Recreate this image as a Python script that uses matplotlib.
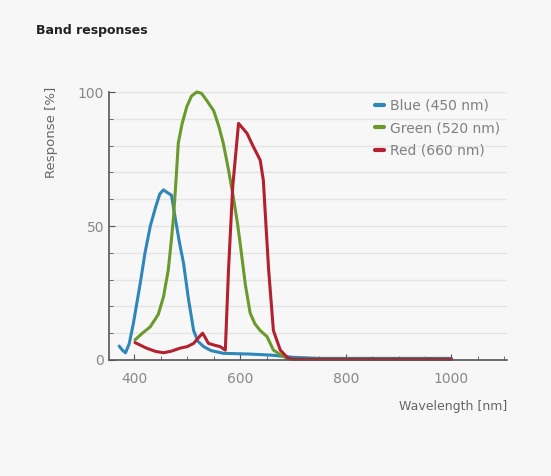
import matplotlib
matplotlib.use("Agg")
import matplotlib.pyplot as plt
from matplotlib.ticker import MultipleLocator

# Data
blue_wl = [371, 378, 383, 390, 398, 411, 420, 430, 440, 448, 455, 462, 470, 478, 485, 493, 502, 512, 520, 531, 545, 568, 620, 660, 700, 750, 850, 1000]
blue_resp = [5.2, 3.5, 2.7, 6, 13.7, 28.7, 40, 50, 57, 62, 63.5, 62.5, 61.5, 52, 44, 36, 23, 11, 7, 5, 3.5, 2.5, 2.2, 1.8, 1.0, 0.6, 0.6, 0.6]

green_wl = [401, 415, 430, 445, 455, 464, 470, 474, 479, 483, 490, 499, 508, 518, 527, 538, 550, 560, 568, 578, 587, 595, 600, 610, 619, 628, 638, 651, 663, 676, 690, 700, 850, 1000]
green_resp = [7.5, 10, 12.4, 17, 23.6, 33.6, 45, 53.5, 68, 81, 88, 94.5, 98.5, 100, 99.5, 96.5, 93, 87, 81, 71, 61, 51, 43.6, 28, 17.5, 13.5, 11, 8.7, 3.7, 2.0, 0.5, 0.3, 0.3, 0.3]

red_wl = [401, 423, 440, 455, 470, 486, 500, 512, 522, 529, 535, 540, 552, 562, 572, 578, 586, 597, 613, 625, 638, 644, 649, 654, 663, 676, 690, 700, 850, 1000]
red_resp = [6.5, 4.4, 3.2, 2.7, 3.3, 4.4, 5.0, 6.2, 8.5, 10, 8, 6.2, 5.5, 5, 3.7, 33.6, 64.7, 88.3, 84.6, 79.6, 74.6, 67, 50, 33.6, 11, 3.7, 0.8, 0.3, 0.3, 0.3]

labels = ["Blue (450 nm)", "Green (520 nm)", "Red (660 nm)"]
colors = ["#2f86b8", "#6b9a2c", "#b3202f"]

x_major = [400, 600, 800, 1000]
y_major = [0, 50, 100]

bg = "#f7f7f7"
fig = plt.figure(figsize=(5.51, 4.76), dpi=100, facecolor=bg)
ax = fig.add_axes([0.198, 0.2437, 0.722, 0.563], facecolor=bg)

for wl, r, c, lab in zip([blue_wl, green_wl, red_wl], [blue_resp, green_resp, red_resp], colors, labels):
    ax.plot(wl, r, color=c, lw=2.2, label=lab, clip_on=False,
            solid_joinstyle="round", solid_capstyle="round")

ax.set_xlim(352, 1105)
ax.set_ylim(0, 100)
ax.set_xticks(x_major)
ax.set_yticks(y_major)
ax.xaxis.set_minor_locator(MultipleLocator(50))
ax.yaxis.set_minor_locator(MultipleLocator(10))
ax.grid(True, which="both", axis="y", color="#e4e4e4", lw=1)
ax.set_axisbelow(True)

for s in ["top", "right"]:
    ax.spines[s].set_visible(False)
for s in ["left", "bottom"]:
    ax.spines[s].set_color("#555555")
    ax.spines[s].set_linewidth(1.2)

ax.tick_params(which="both", direction="in", color="#555555", labelcolor="#888888", labelsize=10)
ax.tick_params(which="major", length=4)
ax.tick_params(which="minor", length=3)
ax.tick_params(axis="x", pad=9)

ax.set_xlabel("Wavelength [nm]", color="#666666", fontsize=9)
ax.xaxis.set_label_coords(1.0, -0.15)
ax.xaxis.label.set_horizontalalignment("right")
ax.set_ylabel("Response [%]", color="#666666", fontsize=9.5)
ax.yaxis.set_label_coords(-0.128, 0.85)

leg = ax.legend(loc="upper right", bbox_to_anchor=(1.0, 1.0), frameon=False, fontsize=10,
                handlelength=0.7, handletextpad=0.4, labelspacing=0.6, borderaxespad=0.1)
for t in leg.get_texts():
    t.set_color("#808080")
for h in leg.legend_handles:
    h.set_linewidth(3)

fig.text(0.065, 0.935, "Band responses", fontsize=9, fontweight="bold", color="#222222", va="center")

fig.savefig("out.png", dpi=100, facecolor=bg)
